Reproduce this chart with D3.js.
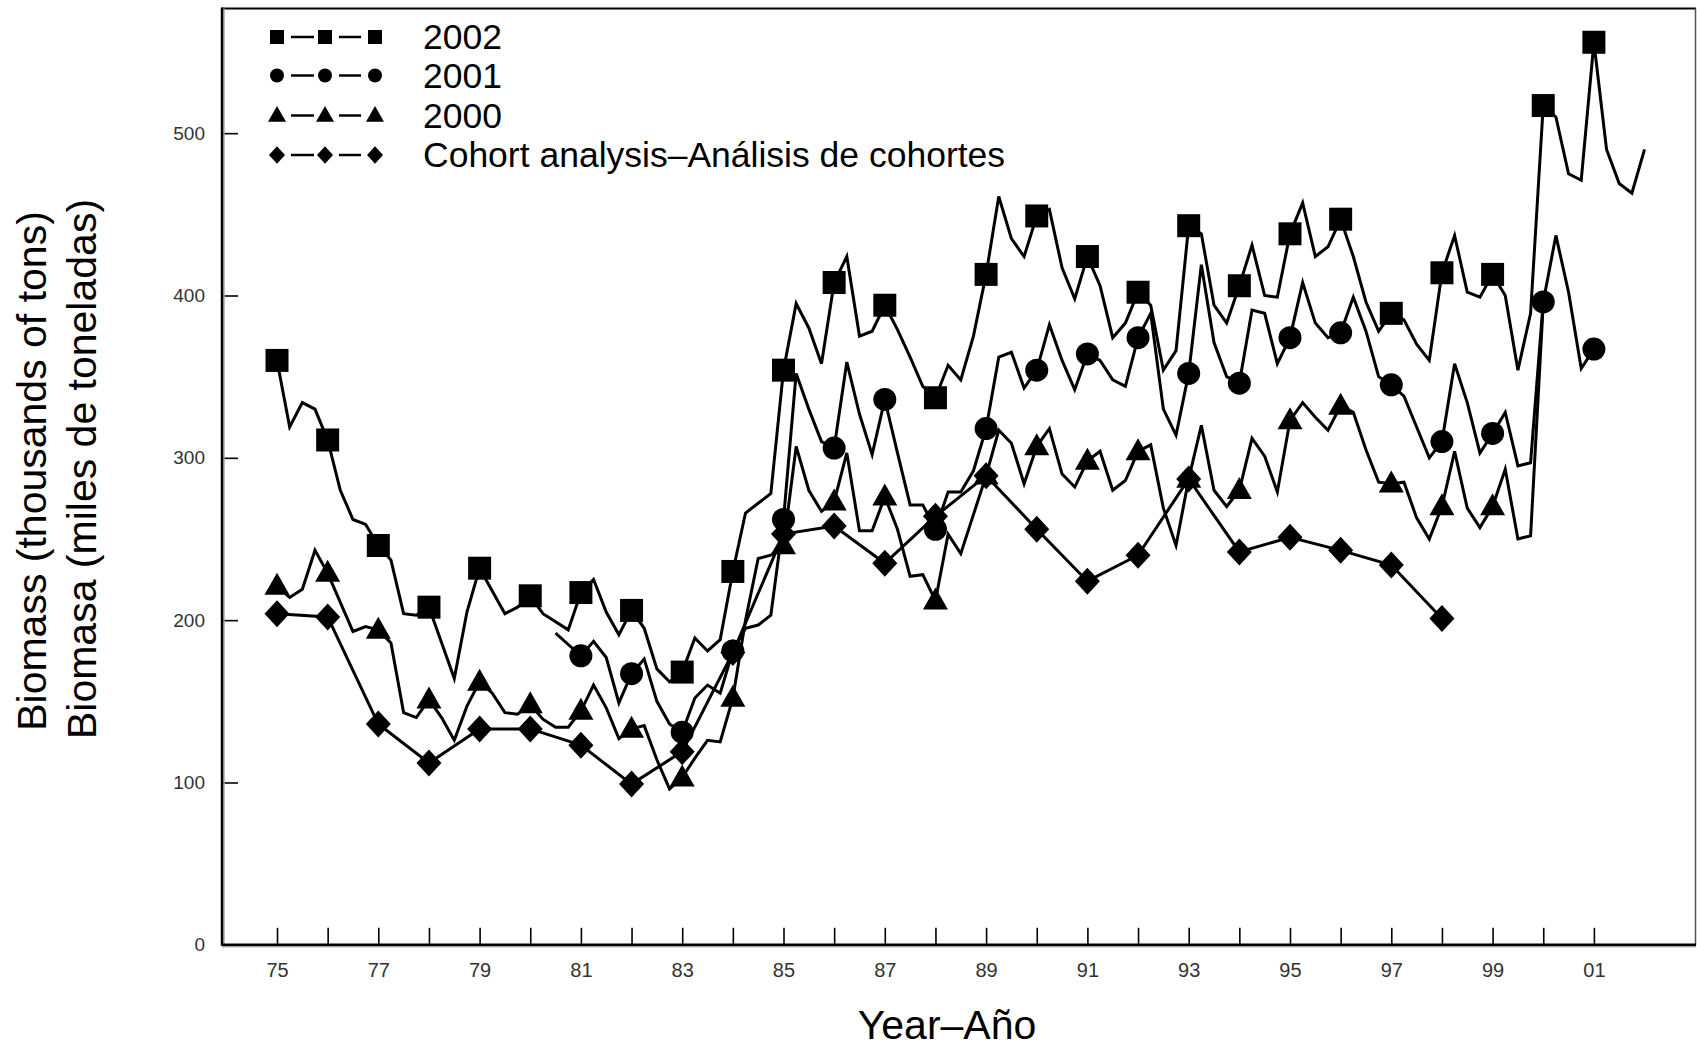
<!DOCTYPE html>
<html>
<head>
<meta charset="utf-8">
<script src="https://cdn.jsdelivr.net/npm/d3@7"></script>
<style>
  html, body { margin: 0; padding: 0; background: #fff; }
  svg { display: block; font-family: "Liberation Sans", Arial, sans-serif; }
</style>
</head>
<body>
<svg id="chart" width="1697" height="1050"></svg>
<script>
// ---------------- DATA ----------------
// Quarterly biomass (thousands of tons); first value at the start year, then every quarter
const start2002 = 1975;
const biomass2002 = [
  360, 319, 334, 330,   311, 280, 262, 259,   246, 237, 204, 203,   208, 186, 164, 205,
  232, 218, 204, 208,   215, 204, 199, 194,   217, 225, 205, 191,   206, 195, 170, 162,
  168, 189, 181, 188,   230, 266, 272, 278,   354, 395, 380, 358,   408, 424, 375, 378,
  394, 379, 362, 344,   337, 357, 348, 375,   413, 461, 435, 424,   449, 453, 417, 398,
  424, 406, 374, 383,   402, 394, 354, 366,   443, 438, 394, 383,   406, 431, 400, 399,
  438, 457, 424, 430,   447, 424, 396, 378,   389, 385, 370, 360,   414, 437, 402, 399,
  413, 400, 354, 389,   517, 510, 475, 471,   556, 490, 469, 463,   490
];
const start2001 = 1980.5;
const biomass2001 = [
  192, 185,
  178, 187, 177, 149,   167, 176, 150, 136,   131, 152, 160, 155,   181, 195, 197, 203,
  262, 352, 330, 310,   306, 359, 327, 302,   336, 303, 271, 271,   256, 279, 279, 292,
  318, 362, 365, 343,   354, 382, 360, 342,   364, 360, 348, 344,   374, 389, 330, 314,
  352, 419, 371, 350,   346, 391, 389, 358,   374, 408, 383, 374,   377, 399, 378, 350,
  345, 338, 319, 300,   310, 358, 334, 303,   315, 328, 295, 297,   396, 437, 402, 355,
  367
];
const start2000 = 1975;
const biomass2000 = [
  221, 214, 219, 243,   229, 211, 193, 196,   194, 186, 143, 140,   151, 140, 126, 147,
  162, 155, 143, 142,   148, 139, 134, 134,   144, 160, 146, 127,   133, 135, 114, 96,
  103, 115, 126, 125,   152, 200, 238, 240,   246, 307, 280, 267,   273, 303, 255, 255,
  276, 256, 227, 228,   212, 253, 241, 265,   289, 317, 309, 284,   307, 318, 290, 282,
  298, 304, 280, 286,   304, 308, 269, 246,   287, 320, 280, 270,   280, 312, 301, 279,
  323, 334, 325, 317,   332, 328, 305, 285,   284, 285, 263, 250,   270, 304, 269, 257,
  270, 293, 250, 252,   395
];
// Annual markers: first and last marker year for each quarterly series
const markers2002 = [1975, 2001];
const markers2001 = [1981, 2001];
const markers2000 = [1975, 1999];

// Cohort analysis (annual)
const cohortYears = [1975, 1976, 1977, 1978, 1979, 1980, 1981, 1982, 1983, 1984, 1985, 1986,
                     1987, 1988, 1989, 1990, 1991, 1992, 1993, 1994, 1995, 1996, 1997, 1998];
const cohortValues = [204, 202, 136, 112, 133, 133, 123, 99, 119, 180, 253, 258,
                      235, 264, 289, 256, 224, 240, 287, 242, 251, 243, 234, 201];

const legendLabels = ["2002", "2001", "2000", "Cohort analysis\u2013An\u00e1lisis de cohortes"];
const yTicks = [0, 100, 200, 300, 400, 500];
const xTickYears = d3.range(1975, 2002);
const xTitle = "Year\u2013A\u00f1o";
const yTitle1 = "Biomass (thousands of tons)";
const yTitle2 = "Biomasa (miles de toneladas)";

// ---------------- LAYOUT ----------------
const svg = d3.select("#chart");
const W = 1697, H = 1050;
const pLeft = 222, pRight = 1696, pTop = 8.5, pBottom = 944.8;

svg.append("rect").attr("width", W).attr("height", H).attr("fill", "#fff");

const x = d3.scaleLinear().domain([1973.914, 2003.016]).range([pLeft, pRight]);
const y = d3.scaleLinear().domain([0, 576.8]).range([pBottom, pTop]);

function toPoints(startYear, vals) {
  return vals.map((v, i) => ({ t: startYear + i * 0.25, v }));
}
const s2002 = toPoints(start2002, biomass2002);
const s2001 = toPoints(start2001, biomass2001);
const s2000 = toPoints(start2000, biomass2000);
const cohort = cohortYears.map((t, i) => ({ t, v: cohortValues[i] }));

function markerPts(pts, range) {
  return pts.filter(p => Math.abs(p.t - Math.round(p.t)) < 1e-6 && p.t >= range[0] && p.t <= range[1]);
}

// ---------------- AXES ----------------
const yAxis = d3.axisLeft(y).tickValues(yTicks).tickSize(-16).tickPadding(17);
const gy = svg.append("g").attr("transform", `translate(${pLeft},0)`).call(yAxis);
gy.select(".domain").remove();
gy.selectAll(".tick line").attr("stroke", "#000").attr("stroke-width", 1.6);
gy.selectAll(".tick text").attr("font-size", 19).attr("fill", "#333")
  .attr("font-family", "Liberation Sans, Arial, sans-serif");

const xAxis = d3.axisBottom(x).tickValues(xTickYears).tickSize(-17).tickPadding(18)
  .tickFormat(d => (d % 2 === 1) ? String(d % 100).padStart(2, "0") : "");
const gx = svg.append("g").attr("transform", `translate(0,${pBottom})`).call(xAxis);
gx.select(".domain").remove();
gx.selectAll(".tick line").attr("stroke", "#000").attr("stroke-width", 1.6);
gx.selectAll(".tick text").attr("font-size", 20).attr("fill", "#333")
  .attr("font-family", "Liberation Sans, Arial, sans-serif");

// frame
svg.append("line").attr("x1", pLeft).attr("x2", pRight).attr("y1", pTop).attr("y2", pTop)
  .attr("stroke", "#000").attr("stroke-width", 2);
svg.append("line").attr("x1", pRight - 0.5).attr("x2", pRight - 0.5).attr("y1", pTop).attr("y2", pBottom)
  .attr("stroke", "#555").attr("stroke-width", 1.5);
svg.append("line").attr("x1", pLeft + 2).attr("x2", pLeft + 2).attr("y1", pTop).attr("y2", pBottom)
  .attr("stroke", "#aaa").attr("stroke-width", 1.5);
svg.append("line").attr("x1", pLeft).attr("x2", pLeft).attr("y1", pTop - 1).attr("y2", pBottom + 1)
  .attr("stroke", "#000").attr("stroke-width", 2.5);
svg.append("line").attr("x1", pLeft).attr("x2", pRight).attr("y1", pBottom + 2).attr("y2", pBottom + 2)
  .attr("stroke", "#aaa").attr("stroke-width", 1.5);
svg.append("line").attr("x1", pLeft).attr("x2", pRight).attr("y1", pBottom).attr("y2", pBottom)
  .attr("stroke", "#000").attr("stroke-width", 2.5);

// ---------------- LINES ----------------
const line = d3.line().x(d => x(d.t)).y(d => y(d.v));
const lineG = svg.append("g").attr("fill", "none").attr("stroke", "#000")
  .attr("stroke-width", 3).attr("stroke-linejoin", "miter");
[s2002, s2001, s2000, cohort].forEach(s => lineG.append("path").attr("d", line(s)));

// ---------------- MARKERS ----------------
function shapePath(kind, sz) {
  const h = sz / 2;
  if (kind === "square") return `M${-h},${-h}H${h}V${h}H${-h}Z`;
  if (kind === "circle") return d3.symbol(d3.symbolCircle, Math.PI * h * h)();
  if (kind === "triangle") {
    const th = sz * 0.88;
    return `M0,${-th * 0.6}L${h},${th * 0.4}L${-h},${th * 0.4}Z`;
  }
  if (kind === "diamond") {
    const hh = h * 1.08;
    return `M0,${-hh}L${h},0L0,${hh}L${-h},0Z`;
  }
}
const markG = svg.append("g").attr("fill", "#000");
function drawMarkers(pts, kind, sz) {
  markG.selectAll(null).data(pts).enter().append("path")
    .attr("d", shapePath(kind, sz))
    .attr("transform", d => `translate(${x(d.t)},${y(d.v)})`);
}
drawMarkers(markerPts(s2000, markers2000), "triangle", 25);
drawMarkers(cohort, "diamond", 25);
drawMarkers(markerPts(s2001, markers2001), "circle", 23);
drawMarkers(markerPts(s2002, markers2002), "square", 23);

// ---------------- LEGEND ----------------
const legKinds = ["square", "circle", "triangle", "diamond"];
const legSizes = [14, 14, 18, 16];
const legRows = [37, 75.5, 115.5, 155];
const legSymX = [277, 325, 375];
const legDash = [[291, 314], [339, 361]];
const legG = svg.append("g");
legendLabels.forEach((lab, i) => {
  const cy = legRows[i];
  legDash.forEach(([a, b]) => legG.append("line").attr("x1", a).attr("x2", b)
    .attr("y1", cy).attr("y2", cy).attr("stroke", "#000").attr("stroke-width", 2.5));
  legSymX.forEach(cx => legG.append("path").attr("d", shapePath(legKinds[i], legSizes[i]))
    .attr("transform", `translate(${cx},${cy})`).attr("fill", "#000"));
  legG.append("text").attr("x", 423).attr("y", cy).attr("dy", "0.35em")
    .attr("font-size", 35.5).attr("fill", "#000").text(lab);
});

// ---------------- TITLES ----------------
svg.append("text").attr("x", 947).attr("y", 1039).attr("text-anchor", "middle")
  .attr("font-size", 41).attr("fill", "#000").text(xTitle);
svg.append("text").attr("transform", "translate(46,471) rotate(-90)").attr("text-anchor", "middle")
  .attr("font-size", 41).attr("fill", "#000").text(yTitle1);
svg.append("text").attr("transform", "translate(96,469) rotate(-90)").attr("text-anchor", "middle")
  .attr("font-size", 41).attr("fill", "#000").text(yTitle2);
</script>
</body>
</html>
